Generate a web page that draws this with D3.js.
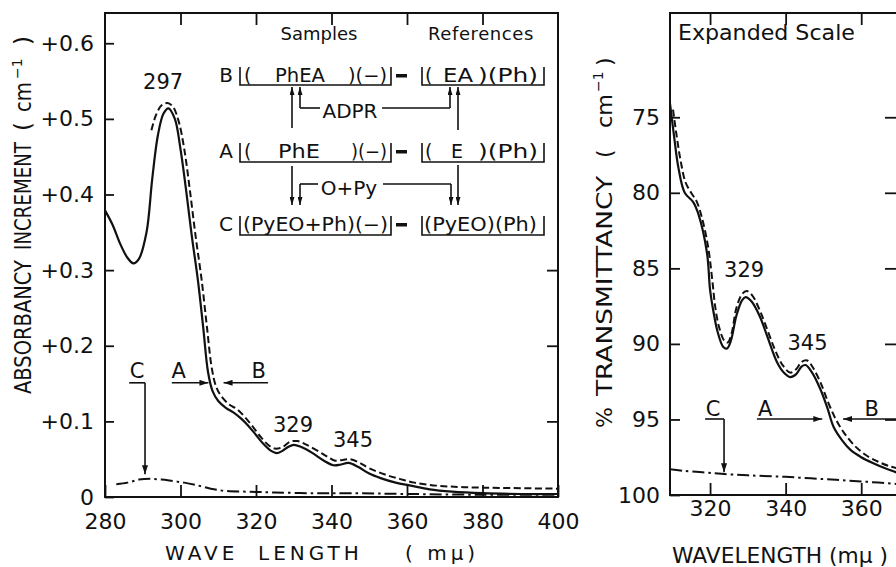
<!DOCTYPE html>
<html>
<head>
<meta charset="utf-8">
<script src="https://cdn.jsdelivr.net/npm/d3@7"></script>
<style>
body{margin:0;background:#fff;}
svg text{font-family:"DejaVu Sans",sans-serif;fill:#111;}
</style>
</head>
<body>
<svg id="screen" width="896" height="567"></svg>
<script>
// ---- left panel data (absorbancy increment, cm-1) ----
var leftTicksX=[280,300,320,340,360,380,400];
var leftTicksY=[0,0.1,0.2,0.3,0.4,0.5,0.6];
var leftLabelsY=["0","+0.1","+0.2","+0.3","+0.4","+0.5","+0.6"];

var aWl=[280,282,284,286,287.5,289,291,292.5,294,295.5,296.8,298.5,300,301.5,303,304.6,306,307.3,308.5,310,312,314,316,318,320,322,324,325.5,327,328.5,330,332,335,338,340.5,342.5,344.5,347,350,353,357,361,366,372,380,390,400];
var aVal=[0.379,0.360,0.335,0.316,0.309,0.315,0.350,0.420,0.478,0.507,0.514,0.500,0.460,0.405,0.345,0.287,0.225,0.165,0.140,0.127,0.118,0.112,0.104,0.094,0.082,0.070,0.061,0.058,0.061,0.066,0.069,0.066,0.058,0.048,0.042,0.043,0.045,0.040,0.031,0.025,0.019,0.015,0.010,0.007,0.005,0.004,0.004];

var bWl=[292.3,293.5,295,296.5,298,299.5,301,302.5,304,305.6,307,308.3,309.5,311,313,315,317,319,321,323,325,327,329,331,333,336,339,341,343,345,347.5,350,354,358,362,368,375,385,400];
var bVal=[0.485,0.505,0.518,0.521,0.516,0.497,0.460,0.405,0.345,0.287,0.225,0.170,0.145,0.132,0.122,0.116,0.106,0.094,0.081,0.070,0.064,0.066,0.073,0.074,0.070,0.062,0.053,0.048,0.049,0.050,0.045,0.038,0.030,0.024,0.019,0.015,0.013,0.012,0.011];

var cWl=[283,286,289,292,295,298,301,304,308,312,318,325,335,345,360,380,400];
var cVal=[0.017,0.019,0.023,0.024,0.023,0.021,0.019,0.016,0.011,0.008,0.007,0.006,0.005,0.005,0.004,0.003,0.003];

// ---- right panel data (% transmittancy, expanded scale) ----
var rightTicksX=[320,340,360];
var rightTicksY=[75,80,85,90,95,100];

var raWl=[309.4,310.5,311.6,313.3,315.5,316.9,319.2,320,321,322,323.5,324.5,325.5,327,328.5,329.4,331,333.2,335,337.7,339.5,341.2,342.8,344.2,345.3,347,349.2,351,352.7,355,357.1,360,363.2,366,369.3,371];
var raVal=[74.1,76.3,78.3,80.0,80.6,81.4,84.0,86.4,88.0,89.2,90.2,90.3,89.8,88.1,87.1,86.9,87.2,88.2,89.4,91.2,91.9,92.2,92.0,91.5,91.4,91.9,93.0,94.2,95.5,96.4,97.0,97.5,97.9,98.2,98.5,98.6];

var rbWl=[310.2,311.2,312.3,313.5,315,316.5,318,319.5,320.6,321.4,322.4,323.8,324.7,325.7,327,328.5,329.7,331.2,333.2,335.2,337.2,339.2,341.2,342.7,344.2,345.7,347.3,349.3,351.3,353.3,355.5,358.5,361.5,364.5,367.5,371];
var rbVal=[74.5,76.3,78.0,79.3,80.0,80.6,81.8,83.6,85.8,87.6,88.9,89.8,89.9,89.3,87.6,86.7,86.5,86.8,87.8,89.1,90.4,91.4,91.9,91.7,91.2,91.1,91.6,92.6,93.9,95.0,95.9,96.8,97.4,97.8,98.1,98.3];

var rcWl=[309.4,313,318,323,330,340,350,360,371];
var rcVal=[98.3,98.4,98.5,98.6,98.7,98.8,98.95,99.1,99.3];

var svg=d3.select("#screen");

// arrow heads
var defs=svg.append("defs");
defs.append("marker").attr("id","ah").attr("viewBox","0 0 10 10").attr("refX",10).attr("refY",5)
    .attr("markerWidth",9).attr("markerHeight",6).attr("markerUnits","userSpaceOnUse")
    .attr("preserveAspectRatio","none").attr("orient","auto")
    .append("path").attr("d","M0,0L10,5L0,10Z").attr("fill","#111");
defs.append("marker").attr("id","ahs").attr("viewBox","0 0 10 10").attr("refX",10).attr("refY",5)
    .attr("markerWidth",8).attr("markerHeight",5).attr("markerUnits","userSpaceOnUse")
    .attr("preserveAspectRatio","none").attr("orient","auto")
    .append("path").attr("d","M0,0L10,5L0,10Z").attr("fill","#111");
defs.append("clipPath").attr("id","clipR").append("rect").attr("x",670).attr("y",13).attr("width",229).attr("height",482);
defs.append("clipPath").attr("id","clipL").append("rect").attr("x",105).attr("y",13).attr("width",453).attr("height",484);

function arrow(g,x1,y1,x2,y2,m){
    g.append("line").attr("x1",x1).attr("y1",y1).attr("x2",x2).attr("y2",y2)
        .attr("stroke","#111").attr("stroke-width",1.6).attr("marker-end",m?"url(#"+m+")":null);
}
function seg(g,pts){
    g.append("polyline").attr("points",pts.map(function(p){return p.join(",");}).join(" "))
        .attr("fill","none").attr("stroke","#111").attr("stroke-width",1.6);
}

// ===================== LEFT PANEL =====================
var xL=d3.scaleLinear().domain([280,400]).range([105,558]);
var yL=d3.scaleLinear().domain([0,0.64]).range([497,13]);

svg.append("g").attr("class","ax").attr("transform","translate(0,497)")
    .call(d3.axisBottom(xL).tickValues(leftTicksX).tickSize(-12).tickPadding(16).tickFormat(d3.format("d")));
svg.append("g").attr("class","ax").attr("transform","translate(0,13)")
    .call(d3.axisTop(xL).tickValues(leftTicksX.slice(1,6)).tickSize(-12).tickFormat(""));
svg.append("g").attr("class","ax").attr("transform","translate(105,0)")
    .call(d3.axisLeft(yL).tickValues(leftTicksY).tickSize(-9).tickPadding(11).tickFormat(function(d,i){return leftLabelsY[i];}));
svg.append("g").attr("class","ax").attr("transform","translate(558,0)")
    .call(d3.axisRight(yL).tickValues([0.1,0.2,0.3]).tickSize(-11).tickFormat(""));

svg.append("rect").attr("x",105).attr("y",13).attr("width",453).attr("height",484)
    .attr("fill","none").attr("stroke","#111").attr("stroke-width",2);

var lineL=d3.line().x(function(d){return xL(d[0]);}).y(function(d){return yL(d[1]);}).curve(d3.curveCatmullRom);
var gL=svg.append("g").attr("clip-path","url(#clipL)");
gL.append("path").datum(d3.zip(aWl,aVal)).attr("d",lineL).attr("fill","none").attr("stroke","#111").attr("stroke-width",2.2);
gL.append("path").datum(d3.zip(bWl,bVal)).attr("d",lineL).attr("fill","none").attr("stroke","#111").attr("stroke-width",2).attr("stroke-dasharray","7,3.5");
gL.append("path").datum(d3.zip(cWl,cVal)).attr("d",lineL).attr("fill","none").attr("stroke","#111").attr("stroke-width",2).attr("stroke-dasharray","12,4,2.5,4");

// peak labels
var lt=svg.append("g").attr("font-size",21).attr("text-anchor","middle");
lt.append("text").attr("x",xL(295.4)).attr("y",yL(0.540)).text("297");
lt.append("text").attr("x",xL(329.8)).attr("y",yL(0.086)).text("329");
lt.append("text").attr("x",xL(345.7)).attr("y",yL(0.066)).text("345");
lt.append("text").attr("x",xL(288.5)).attr("y",yL(0.158)).text("C");
lt.append("text").attr("x",xL(299.5)).attr("y",yL(0.158)).text("A");
lt.append("text").attr("x",xL(320.7)).attr("y",yL(0.158)).text("B");
seg(svg,[[xL(286.4),yL(0.151)],[xL(290.6),yL(0.151)]]);
arrow(svg,xL(290.6),yL(0.151),xL(290.6),yL(0.030),"ah");
arrow(svg,xL(297.7),yL(0.151),xL(307.4),yL(0.151),"ah");
arrow(svg,xL(323.2),yL(0.151),xL(311.4),yL(0.151),"ah");

// inset scheme
var ins=svg.append("g");
ins.append("text").attr("x",319).attr("y",40).attr("font-size",18).attr("text-anchor","middle").text("Samples");
ins.append("text").attr("x",481).attr("y",40).attr("font-size",18).attr("text-anchor","middle").attr("letter-spacing",0.6).text("References");
var rows=[
    {k:"B",y:82,u:85,l:[["(",244],["PhEA",275,50],[")(\u2212)",348,39]],r:[["(",425],["EA",443,30],[")(Ph)",478,60]]},
    {k:"A",y:158,u:162,l:[["(",244],["PhE",278,42],[")(\u2212)",351,36]],r:[["(",425],["E",451],[")(Ph)",478,60]]},
    {k:"C",y:231,u:235,l:[["(PyEO+Ph)(\u2212)",243,145]],r:[["(PyEO)(Ph)",424,113]]}
];
rows.forEach(function(rw){
    var t=ins.append("g").attr("font-size",19);
    t.append("text").attr("x",233).attr("y",rw.y).attr("text-anchor","end").attr("font-size",20).text(rw.k);
    rw.l.concat(rw.r).forEach(function(p){
        var e=t.append("text").attr("x",p[1]).attr("y",rw.y).text(p[0]);
        if(p[2]) e.attr("textLength",p[2]).attr("lengthAdjust","spacingAndGlyphs");
    });
    seg(ins,[[240,rw.y-15],[240,rw.u],[391,rw.u],[391,rw.y-15]]);
    seg(ins,[[422,rw.y-15],[422,rw.u],[544,rw.u],[544,rw.y-15]]);
    ins.append("rect").attr("x",396).attr("y",rw.y-8).attr("width",11).attr("height",3.5).attr("fill","#111");
});
// ADPR and O+Py links
arrow(ins,292,128,292,87,"ahs");
arrow(ins,458,130,458,87,"ahs");
seg(ins,[[300,108],[320,108]]);
arrow(ins,300,108,300,87,"ahs");
ins.append("text").attr("x",350).attr("y",118).attr("font-size",20).attr("text-anchor","middle").text("ADPR");
seg(ins,[[382,108],[450,108]]);
arrow(ins,450,108,450,87,"ahs");
arrow(ins,292,166,292,205,"ahs");
arrow(ins,458,165,458,205,"ahs");
seg(ins,[[318,184],[300,184]]);
arrow(ins,300,184,300,205,"ahs");
ins.append("text").attr("x",349).attr("y",195).attr("font-size",20).attr("text-anchor","middle").text("O+Py");
seg(ins,[[383,184],[451,184]]);
arrow(ins,451,184,451,205,"ahs");

// axis titles left
var tl=svg.append("g").attr("transform","translate(31,0) rotate(-90)").attr("font-size",23);
tl.append("text").attr("x",-394).attr("y",0).attr("textLength",134).attr("lengthAdjust","spacingAndGlyphs").text("ABSORBANCY");
tl.append("text").attr("x",-250).attr("y",0).attr("textLength",108).attr("lengthAdjust","spacingAndGlyphs").text("INCREMENT");
tl.append("text").attr("x",-131).attr("y",0).text("(");
tl.append("text").attr("x",-112).attr("y",0).attr("textLength",30).attr("lengthAdjust","spacingAndGlyphs").text("cm");
tl.append("text").attr("x",-79).attr("y",-9).attr("font-size",14).text("\u22121");
tl.append("text").attr("x",-45).attr("y",0).text(")");

var bl=svg.append("g").attr("font-size",20).attr("letter-spacing",4);
bl.append("text").attr("x",165).attr("y",560).text("WAVE");
bl.append("text").attr("x",258).attr("y",560).text("LENGTH");
bl.append("text").attr("x",405).attr("y",560).text("( m\u03bc)");

// ===================== RIGHT PANEL =====================
var xR=d3.scaleLinear().domain([309.4,370]).range([670,899]);
var yR=d3.scaleLinear().domain([100,68.1]).range([495,13]);

svg.append("g").attr("class","ax").attr("transform","translate(0,495)")
    .call(d3.axisBottom(xR).tickValues(rightTicksX).tickSize(-12).tickPadding(5).tickFormat(d3.format("d")));
svg.append("g").attr("class","ax").attr("transform","translate(0,13)")
    .call(d3.axisTop(xR).tickValues(rightTicksX).tickSize(-12).tickFormat(""));
svg.append("g").attr("class","ax").attr("transform","translate(670,0)")
    .call(d3.axisLeft(yR).tickValues(rightTicksY).tickSize(-10).tickPadding(10).tickFormat(d3.format("d")));
svg.append("g").attr("class","ax").attr("transform","translate(899,0)")
    .call(d3.axisRight(yR).tickValues(rightTicksY.slice(0,5)).tickSize(-14).tickFormat(""));

svg.append("rect").attr("x",670).attr("y",13).attr("width",229).attr("height",482)
    .attr("fill","none").attr("stroke","#111").attr("stroke-width",2);

var lineR=d3.line().x(function(d){return xR(d[0]);}).y(function(d){return yR(d[1]);}).curve(d3.curveCatmullRom);
var gR=svg.append("g").attr("clip-path","url(#clipR)");
gR.append("path").datum(d3.zip(raWl,raVal)).attr("d",lineR).attr("fill","none").attr("stroke","#111").attr("stroke-width",2.2);
gR.append("path").datum(d3.zip(rbWl,rbVal)).attr("d",lineR).attr("fill","none").attr("stroke","#111").attr("stroke-width",2).attr("stroke-dasharray","7,3.5");
gR.append("path").datum(d3.zip(rcWl,rcVal)).attr("d",lineR).attr("fill","none").attr("stroke","#111").attr("stroke-width",2).attr("stroke-dasharray","12,4,2.5,4");

var rt=svg.append("g").attr("font-size",21).attr("text-anchor","middle");
rt.append("text").attr("x",xR(311.5)).attr("y",yR(69.9)).attr("text-anchor","start").attr("textLength",177).attr("lengthAdjust","spacingAndGlyphs").attr("font-size",21).text("Expanded Scale");
rt.append("text").attr("x",xR(329.0)).attr("y",yR(85.6)).text("329");
rt.append("text").attr("x",xR(345.8)).attr("y",yR(90.4)).text("345");
rt.append("text").attr("x",xR(320.8)).attr("y",yR(94.75)).text("C");
rt.append("text").attr("x",xR(334.6)).attr("y",yR(94.75)).text("A");
rt.append("text").attr("x",xR(362.8)).attr("y",yR(94.75)).text("B");
seg(svg,[[xR(318.7),yR(94.97)],[xR(323.7),yR(94.97)]]);
arrow(svg,xR(323.7),yR(94.97),xR(323.7),yR(98.5),"ah");
arrow(svg,xR(332.4),yR(94.97),xR(349.7),yR(94.97),"ah");
arrow(svg,xR(371),yR(94.97),xR(355.2),yR(94.97),"ah");

var tr=svg.append("g").attr("transform","translate(612,0) rotate(-90)").attr("font-size",22);
tr.append("text").attr("x",-428).attr("y",0).text("%");
tr.append("text").attr("x",-396).attr("y",0).attr("textLength",220).attr("lengthAdjust","spacingAndGlyphs").text("TRANSMITTANCY");
tr.append("text").attr("x",-158).attr("y",0).text("(");
tr.append("text").attr("x",-128).attr("y",0).attr("textLength",34).attr("lengthAdjust","spacingAndGlyphs").text("cm");
tr.append("text").attr("x",-92).attr("y",-9).attr("font-size",14).text("\u22121");
tr.append("text").attr("x",-66).attr("y",0).text(")");

svg.append("text").attr("x",672).attr("y",563).attr("font-size",21).attr("textLength",216).attr("lengthAdjust","spacingAndGlyphs").text("WAVELENGTH (m\u03bc )");

// axis styling
svg.selectAll(".ax .domain").remove();
svg.selectAll(".ax line").attr("stroke","#111").attr("stroke-width",1.8);
svg.selectAll(".ax text").attr("font-size",22).attr("fill","#111").attr("font-family","DejaVu Sans");
</script>
</body>
</html>
